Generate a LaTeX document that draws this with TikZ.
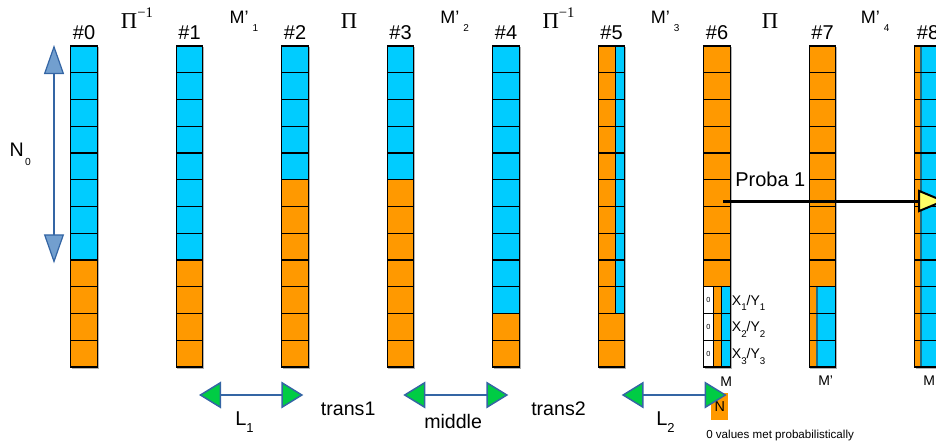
\documentclass[tikz,border=0pt]{standalone}
\usepackage{fontspec}
\setmainfont{Liberation Sans}
\newfontfamily\opserif{Liberation Serif}
\usetikzlibrary{arrows.meta,calc}
\definecolor{cblue}{HTML}{00CCFF}
\definecolor{corange}{HTML}{FF9900}
\definecolor{agreen}{HTML}{00CC44}
\definecolor{aline}{HTML}{3465A4}
\definecolor{afill}{HTML}{729FCF}
\definecolor{ayellow}{HTML}{FFFF66}
\definecolor{cteal}{HTML}{1F6E86}
\newcommand{\dsub}[3]{\raisebox{-#1}{\fontsize{#2}{#2}\selectfont #3}}
\newcommand{\usup}[3]{\raisebox{#1}{\fontsize{#2}{#2}\selectfont #3}}
\begin{document}
\begin{tikzpicture}[x=0.75pt,y=-0.75pt,
  cellline/.style={black,line width=0.8pt},
  lbl/.style={inner sep=0pt,anchor=base west},
  colbox/.style={inner sep=0pt,minimum width=20pt,minimum height=240.75pt},
  fhash/.style={font=\fontsize{15}{15}\selectfont},
  fop/.style={font=\opserif\fontsize{17}{17}\selectfont},
  fmp/.style={font=\fontsize{13.5}{13.5}\selectfont},
  fbig/.style={font=\fontsize{14.7}{14.7}\selectfont},
  fsmall/.style={font=\fontsize{10.5}{10.5}\selectfont},
  greenarrow/.style={aline,line width=1.1pt,{Triangle[length=16.5pt,width=20pt,fill=agreen]}-{Triangle[length=16.5pt,width=20pt,fill=agreen]}},
  bluearrow/.style={aline,line width=0.9pt,{Triangle[length=21.75pt,width=15pt,fill=afill]}-{Triangle[length=21.75pt,width=15pt,fill=afill]}},
  probaarrow/.style={black,line width=2.25pt,-{Triangle[length=21pt,width=17pt,fill=ayellow,line width=1.5pt]}}]
\useasboundingbox (0,0) rectangle (936,447);
\def\T{46}\def\H{26.75}\def\W{26.7}
% column frames (named)
\foreach \i in {0,...,8} {
  \pgfmathsetmacro\L{70.7+105.5*\i}
  \node[colbox] (col\i) at (\L+\W/2,\T+6*\H) {};
}
% blue over orange columns
\foreach \i/\nb in {0/8,1/8,2/5,3/5,4/10} {
  \pgfmathsetmacro\L{70.7+105.5*\i}
  \fill[cblue] (\L,\T) rectangle (\L+\W,\T+\nb*\H);
  \fill[corange] (\L,\T+\nb*\H) rectangle (\L+\W,\T+12*\H);
}
% column 5
\pgfmathsetmacro\L{70.7+105.5*5}
\fill[corange] (\L,\T) rectangle (\L+\W,\T+12*\H);
\fill[cblue] (\L+17.6,\T) rectangle (\L+\W,\T+10*\H);
\draw[cellline] (\L+17.6,\T) -- (\L+17.6,\T+10*\H);
% column 6
\pgfmathsetmacro\L{70.7+105.5*6}
\fill[corange] (\L,\T) rectangle (\L+\W,\T+9*\H);
\fill[white] (\L,\T+9*\H) rectangle (\L+9.6,\T+12*\H);
\fill[corange] (\L+9.6,\T+9*\H) rectangle (\L+17.6,\T+12*\H);
\fill[cblue] (\L+17.6,\T+9*\H) rectangle (\L+\W,\T+12*\H);
\draw[cellline] (\L+9.6,\T+9*\H) -- (\L+9.6,\T+12*\H);
\draw[cellline] (\L+17.6,\T+9*\H) -- (\L+17.6,\T+12*\H);
\foreach \k in {9,10,11}
  \node[inner sep=0pt,font=\fontsize{5.5}{5.5}\selectfont] (zero\k) at (\L+4.8,\T+\k*\H+\H/2) {0};
% column 7
\pgfmathsetmacro\L{70.7+105.5*7}
\fill[corange] (\L,\T) rectangle (\L+\W,\T+12*\H);
\fill[cblue] (\L+7.7,\T+9*\H) rectangle (\L+\W,\T+12*\H);
\draw[cteal,line width=0.9pt] (\L+7.7,\T+9*\H) -- (\L+7.7,\T+12*\H);
% column 8
\pgfmathsetmacro\L{70.7+105.5*8}
\fill[corange] (\L,\T) rectangle (\L+\W,\T+12*\H);
\fill[cblue] (\L+6,\T) rectangle (\L+\W,\T+12*\H);
\draw[cteal,line width=0.9pt] (\L+6.3,\T) -- (\L+6.3,\T+12*\H);
% grid lines and outlines
\foreach \i in {0,...,8} {
  \pgfmathsetmacro\L{70.7+105.5*\i}
  \foreach \k in {1,...,11}
    \draw[cellline] (\L,\T+\k*\H) -- (\L+\W,\T+\k*\H);
  \draw[gray!60,line width=1pt] (\L+\W+0.9,\T+1) -- (\L+\W+0.9,\T+12*\H+0.9) -- (\L+1,\T+12*\H+0.9);
  \draw[cellline] (\L,\T) rectangle (\L+\W,\T+12*\H);
}
% column titles
\foreach \i in {0,...,8} {
  \node[fhash,inner sep=0pt,anchor=base] (h\i) at ($(col\i.north)+(0,-6)$) {\#\i};
}
% operators
\node[lbl,fop] (op1) at (120.7,28) {Π\usup{8pt}{11}{−1}};
\node[lbl,fmp] (mp1) at (229.3,23) {M’\hspace{3pt}\dsub{6.6pt}{7.5}{1}};
\node[lbl,fop] (op2) at (340.7,28) {Π};
\node[lbl,fmp] (mp2) at (440,23) {M’\hspace{3pt}\dsub{6.6pt}{7.5}{2}};
\node[lbl,fop] (op3) at (542.3,28) {Π\usup{8pt}{11}{−1}};
\node[lbl,fmp] (mp3) at (650.7,23) {M’\hspace{3pt}\dsub{6.6pt}{7.5}{3}};
\node[lbl,fop] (op4) at (761.7,28) {Π};
\node[lbl,fmp] (mp4) at (860.7,23) {M’\hspace{3pt}\dsub{6.6pt}{7.5}{4}};
% N0 arrow
\node[lbl,fbig] (n0) at (9.3,156.7) {N\hspace{1pt}\dsub{6.7pt}{7.7}{0}};
\coordinate (n0top) at (54,45);
\coordinate (n0bot) at (54,263.3);
\draw[bluearrow] (n0top) -- (n0bot);
% X/Y labels
\foreach \k/\r in {1/9,2/10,3/11}
  \node[lbl,fsmall] (xy\k) at (731.7,\T+\r*\H+\H/2+5) {X\dsub{4.3pt}{7.3}{\k}/Y\dsub{4.3pt}{7.3}{\k}};
% labels under columns
\node[lbl,fsmall] (lm6) at (720,386) {M};
\node[lbl,fsmall] (lm7) at (818,385) {M’};
\node[lbl,fsmall] (lm8) at (923,385) {M};
\node[fill=corange,inner sep=0pt,minimum width=13pt,minimum height=20.5pt,font=\fontsize{10.8}{10.8}\selectfont] (nbox) at (719.7,406.3) {N};
\node[lbl,font=\fontsize{8.7}{8.7}\selectfont] (note) at (706,438.3) {0 values met probabilistically};
% green double arrows
\coordinate (a1l) at (199,395); \coordinate (a1r) at (303.3,395);
\coordinate (a2l) at (403.3,395); \coordinate (a2r) at (508.3,395);
\coordinate (a3l) at (621.7,395); \coordinate (a3r) at (726.7,395);
\draw[greenarrow] (a1l) -- (a1r);
\draw[greenarrow] (a2l) -- (a2r);
\draw[greenarrow] (a3l) -- (a3r);
\node[lbl,font=\fontsize{15}{15}\selectfont] (l1) at (235,425) {L\dsub{5.8pt}{9.75}{1}};
\node[lbl,font=\fontsize{15}{15}\selectfont] (l2) at (656,425) {L\dsub{5.8pt}{9.75}{2}};
\node[lbl,fbig] (tr1) at (320.7,415.7) {trans1};
\node[lbl,fbig] (mid) at (424,428.3) {middle};
\node[lbl,fbig] (tr2) at (531,415.7) {trans2};
% proba arrow
\coordinate (pstart) at (723,201);
\coordinate (pend) at (946,201);
\node[lbl,font=\fontsize{15}{15}\selectfont] (proba) at (735,186.7) {Proba 1};
\draw[probaarrow] (pstart) -- (pend);
\end{tikzpicture}
\end{document}
